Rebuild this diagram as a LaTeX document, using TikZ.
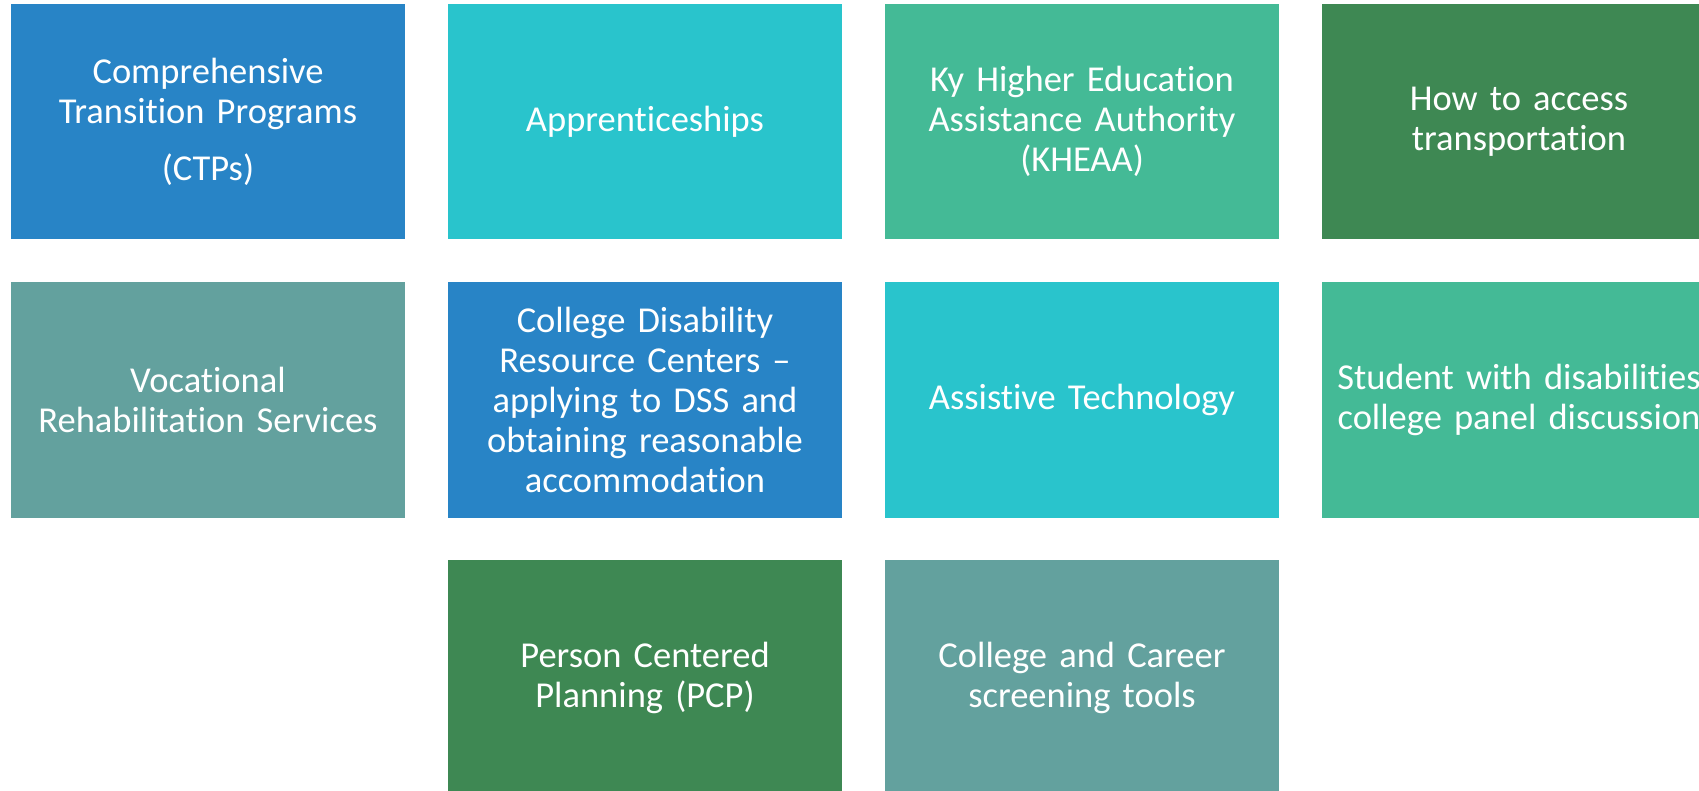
\documentclass[tikz,border=0pt]{standalone}
\usepackage{fontspec}
\setmainfont{Carlito}[Ligatures={NoCommon,NoContextual}]
\definecolor{cblue}{HTML}{2884C6}
\definecolor{ccyan}{HTML}{29C4CC}
\definecolor{csea}{HTML}{44BA96}
\definecolor{cdark}{HTML}{3E8853}
\definecolor{cgray}{HTML}{63A19E}
\tikzset{
  tile/.style={rectangle, inner sep=0pt, minimum width=394pt, minimum height=235pt,
    text width=390pt, align=center, text=white,
    font=\fontsize{36.5}{40}\selectfont}
}
\begin{document}
\begin{tikzpicture}[x=1pt,y=-1pt]
\useasboundingbox (0,0) rectangle (1699,791);
\clip (0,0) rectangle (1699,791);
% row 1
\node[tile, fill=cblue] (ctp) at (208,121.5) {Comprehensive\\Transition Programs\\[17pt](CTPs)};
\node[tile, fill=ccyan] (app) at (645,121.5) {Apprenticeships};
\node[tile, fill=csea] (khe) at (1082,121.5) {Ky Higher Education\\Assistance Authority\\(KHEAA)};
\node[tile, fill=cdark] (trn) at (1519,121.5) {How to access\\transportation};
% row 2
\node[tile, fill=cgray] (voc) at (208,400) {Vocational\\Rehabilitation Services};
\node[tile, fill=cblue] (cdr) at (645,400) {College Disability\\Resource Centers --\\applying to DSS and\\obtaining reasonable\\accommodation};
\node[tile, fill=ccyan] (ast) at (1082,400) {Assistive Technology};
\node[tile, fill=csea] (pnl) at (1519,400) {Student with disabilities\\college panel discussion};
% row 3
\node[tile, fill=cdark] (pcp) at (645,677.5) {Person Centered\\Planning (PCP)};
\node[tile, fill=cgray] (scr) at (1082,677.5) {College and Career\\screening tools};
\end{tikzpicture}
\end{document}
